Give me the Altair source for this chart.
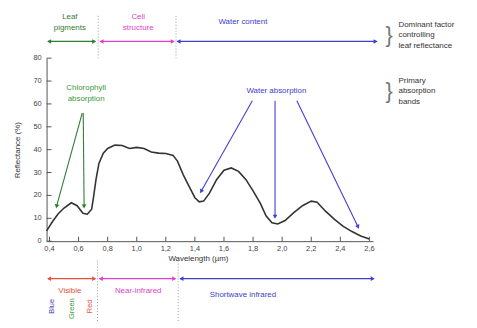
import math
import altair as alt
import pandas as pd

# ---------------- data ----------------
wavelength = [0.38, 0.42, 0.46, 0.50, 0.55, 0.59, 0.63, 0.66, 0.69, 0.70, 0.72, 0.74, 0.77, 0.80,
              0.85, 0.90, 0.95, 1.00, 1.05, 1.10, 1.15, 1.20, 1.25, 1.28, 1.32, 1.36, 1.40, 1.43,
              1.46, 1.50, 1.55, 1.60, 1.65, 1.70, 1.75, 1.80, 1.85, 1.89, 1.93, 1.97, 2.02, 2.08,
              2.14, 2.20, 2.24, 2.30, 2.36, 2.42, 2.48, 2.54, 2.60]
reflectance = [4.5, 8.5, 12.0, 14.5, 16.8, 15.5, 12.2, 11.8, 14.0, 18.0, 27.0, 34.0, 38.5, 40.5,
               42.0, 41.8, 40.5, 41.0, 40.5, 39.0, 38.5, 38.3, 37.5, 35.0, 29.0, 24.0, 19.0, 17.2,
               17.5, 21.0, 27.0, 31.0, 32.0, 30.5, 27.0, 22.0, 16.5, 11.0, 8.0, 7.5, 9.0, 12.5,
               15.5, 17.5, 17.0, 13.0, 9.5, 6.5, 4.2, 2.3, 1.0]

x_ticks = [0.4, 0.6, 0.8, 1.0, 1.2, 1.4, 1.6, 1.8, 2.0, 2.2, 2.4, 2.6]
x_tick_labels = ["0,4", "0,6", "0,8", "1,0", "1,2", "1,4", "1,6", "1,8", "2,0", "2,2", "2,4", "2,6"]
y_ticks = [0, 10, 20, 30, 40, 50, 60, 70, 80]
y_tick_labels = ["0", "10", "20", "30", "40", "50", "60", "70", "80"]

# region boundaries (dotted lines)
boundaries = [0.735, 1.27]
bottom_boundaries = [0.73, 1.285]

# horizontal region arrows: start, end, level, colour
band_start = [0.39, 0.75, 1.28, 0.39, 0.745, 1.30]
band_end = [0.715, 1.255, 2.65, 0.715, 1.265, 2.63]
band_level = [87.3, 87.3, 87.3, -16.4, -16.4, -16.4]
band_color = ["#2e7d32", "#e040c8", "#4040d0", "#e85040", "#e040c8", "#4040d0"]

band_labels = ["Leaf", "pigments", "Cell", "structure", "Water content",
               "Visible", "Near-infrared", "Shortwave infrared"]
band_label_x = [0.54, 0.54, 1.01, 1.01, 1.73, 0.54, 1.01, 1.73]
band_label_y = [98.0, 93.0, 98.0, 93.0, 96.0, -22.0, -22.0, -23.5]
band_label_color = ["#2e7d32", "#2e7d32", "#e040c8", "#e040c8", "#4040d0",
                    "#e85040", "#e040c8", "#4040d0"]

# absorption arrows (from label to curve)
abs_x1 = [0.625, 0.632, 1.795, 1.951, 2.101]
abs_y1 = [56.0, 56.0, 61.4, 61.4, 61.4]
abs_x2 = [0.45, 0.638, 1.445, 1.951, 2.52]
abs_y2 = [15.5, 15.5, 22.0, 11.0, 6.5]
abs_color = ["#2e7d32", "#2e7d32", "#4040d0", "#4040d0", "#4040d0"]

abs_labels = ["Chlorophyll", "absorption", "Water absorption"]
abs_label_x = [0.652, 0.652, 1.96]
abs_label_y = [67.0, 62.0, 65.7]
abs_label_color = ["#3a9a3a", "#3a9a3a", "#4040d0"]

colour_names = ["Blue", "Green", "Red"]
colour_x = [0.42, 0.557, 0.68]
colour_y = [-28.5, -29.5, -28.5]
colour_col = ["#4040c0", "#3a9a3a", "#e85040"]

side_text = ["Dominant factor", "controlling", "leaf reflectance",
             "Primary", "absorption", "bands"]
side_x = [2.80] * 6
side_y = [94.7, 89.9, 85.1, 70.0, 65.6, 61.0]
brace_y = [89.9, 65.6]

# ---------------- layout ----------------
W, H = 330, 185
XD = [0.38, 2.625]
YD = [0, 80]
SX = W / (XD[1] - XD[0])
SY = H / (YD[1] - YD[0])
FONT = "Liberation Sans"

xs = alt.Scale(domain=XD, nice=False, zero=False)
ys = alt.Scale(domain=YD, nice=False)


def X(field):
    return alt.X(field, scale=xs)


def Y(field):
    return alt.Y(field, scale=ys)


def head_angle(x1, y1, x2, y2):
    dx = (x2 - x1) * SX
    dy = -(y2 - y1) * SY
    return math.degrees(math.atan2(dx, -dy)) % 360


curve = pd.DataFrame({"w": wavelength, "r": reflectance})

base_x = alt.X("w:Q", scale=xs, title="Wavelength (µm)",
               axis=alt.Axis(labels=False, ticks=False, grid=False,
                             titlePadding=14, titleX=153))
base_y = alt.Y("r:Q", scale=ys, title="Reflectance (%)",
               axis=alt.Axis(labels=False, ticks=False, grid=False, titlePadding=25))

line = alt.Chart(curve).mark_line(color="#333", strokeWidth=1.6, clip=False).encode(
    x=base_x, y=base_y)

# inward ticks
xt = pd.DataFrame({"w": x_ticks, "r": [0] * len(x_ticks), "r2": [4.5 / SY] * len(x_ticks),
                   "lab": x_tick_labels, "ly": [-3.6] * len(x_ticks)})
xtick = alt.Chart(xt).mark_rule(color="#555", strokeWidth=1).encode(
    x=X("w:Q"), y=Y("r:Q"), y2="r2:Q")
xlab = alt.Chart(xt).mark_text(fontSize=7.5, font=FONT, color="#444", baseline="middle",
                               clip=False).encode(x=X("w:Q"), y=Y("ly:Q"), text="lab:N")
yt = pd.DataFrame({"r": y_ticks, "w": [XD[0]] * len(y_ticks),
                   "w2": [XD[0] + 5 / SX] * len(y_ticks),
                   "lab": y_tick_labels, "lx": [XD[0] - 5 / SX] * len(y_ticks)})
ytick = alt.Chart(yt).mark_rule(color="#555", strokeWidth=1).encode(
    y=Y("r:Q"), x=X("w:Q"), x2="w2:Q")
ylab = alt.Chart(yt).mark_text(fontSize=7.5, font=FONT, color="#444", baseline="middle",
                               align="right", clip=False).encode(
    x=X("lx:Q"), y=Y("r:Q"), text="lab:N")

# dotted boundaries
bd = pd.DataFrame({"w": boundaries + bottom_boundaries,
                   "r": [98.5, 98.5, -8.5, -8.5],
                   "r2": [80.0, 80.0, -37.0, -37.0]})
dotted = alt.Chart(bd).mark_rule(color="#999", strokeWidth=1, strokeDash=[1, 2], clip=False).encode(
    x=X("w:Q"), y=Y("r:Q"), y2="r2:Q")

# band arrows
bands = pd.DataFrame({"x1": band_start, "x2": band_end, "y": band_level, "c": band_color})
band_lines = alt.Chart(bands).mark_rule(strokeWidth=1.2, clip=False).encode(
    x=X("x1:Q"), x2="x2:Q", y=Y("y:Q"),
    color=alt.Color("c:N", scale=None))
heads = []
for a, b, lv, c in zip(band_start, band_end, band_level, band_color):
    heads.append({"x": a + 0.012, "y": lv, "c": c, "angle": 270})
    heads.append({"x": b - 0.012, "y": lv, "c": c, "angle": 90})
for a, b, c, d, col in zip(abs_x1, abs_y1, abs_x2, abs_y2, abs_color):
    heads.append({"x": c, "y": d, "c": col, "angle": head_angle(a, b, c, d)})
heads_df = pd.DataFrame(heads)
head_marks = alt.Chart(heads_df).mark_point(shape="triangle", filled=True, size=22,
                                            opacity=1, clip=False).encode(
    x=X("x:Q"), y=Y("y:Q"),
    color=alt.Color("c:N", scale=None), angle=alt.Angle("angle:Q", scale=None))

# absorption arrows
absd = pd.DataFrame({"x1": abs_x1, "y1": abs_y1, "x2": abs_x2, "y2": abs_y2, "c": abs_color})
abs_lines = alt.Chart(absd).mark_rule(strokeWidth=1.1, clip=False).encode(
    x=X("x1:Q"), y=Y("y1:Q"), x2="x2:Q", y2="y2:Q",
    color=alt.Color("c:N", scale=None))


def text_layer(labels, xv, yv, cols, align="center", size=8, angle=0):
    df = pd.DataFrame({"t": labels, "x": xv, "y": yv, "c": cols})
    return alt.Chart(df).mark_text(align=align, baseline="middle", fontSize=size,
                                   font=FONT, angle=angle, clip=False).encode(
        x=X("x:Q"), y=Y("y:Q"), text="t:N",
        color=alt.Color("c:N", scale=None))


band_text = text_layer(band_labels, band_label_x, band_label_y, band_label_color)
abs_text = text_layer(abs_labels, abs_label_x, abs_label_y, abs_label_color)
colour_text = text_layer(colour_names, colour_x, colour_y, colour_col, angle=270, size=7.5)
side = text_layer(side_text, side_x, side_y, ["#333"] * 6, align="left")
brace = text_layer(["}", "}"], [2.735, 2.735], brace_y, ["#777", "#777"], size=22)

chart = alt.layer(
    line, dotted, xtick, ytick, xlab, ylab, band_lines, abs_lines, head_marks,
    band_text, abs_text, colour_text, side, brace
).properties(
    width=W, height=H,
    autosize=alt.AutoSizeParams(type="none"),
    padding={"left": 39, "top": 49, "right": 97, "bottom": 80},
).configure(
    background="white",
    view=alt.ViewConfig(stroke=None),
    axis=alt.AxisConfig(labels=False, ticks=False, grid=False,
                        titleFontSize=8, titleFontWeight="normal", titleColor="#333",
                        titleFont=FONT, domainColor="#555"),
)

chart.save("out.html", embed_options={"renderer": "svg", "actions": False})
